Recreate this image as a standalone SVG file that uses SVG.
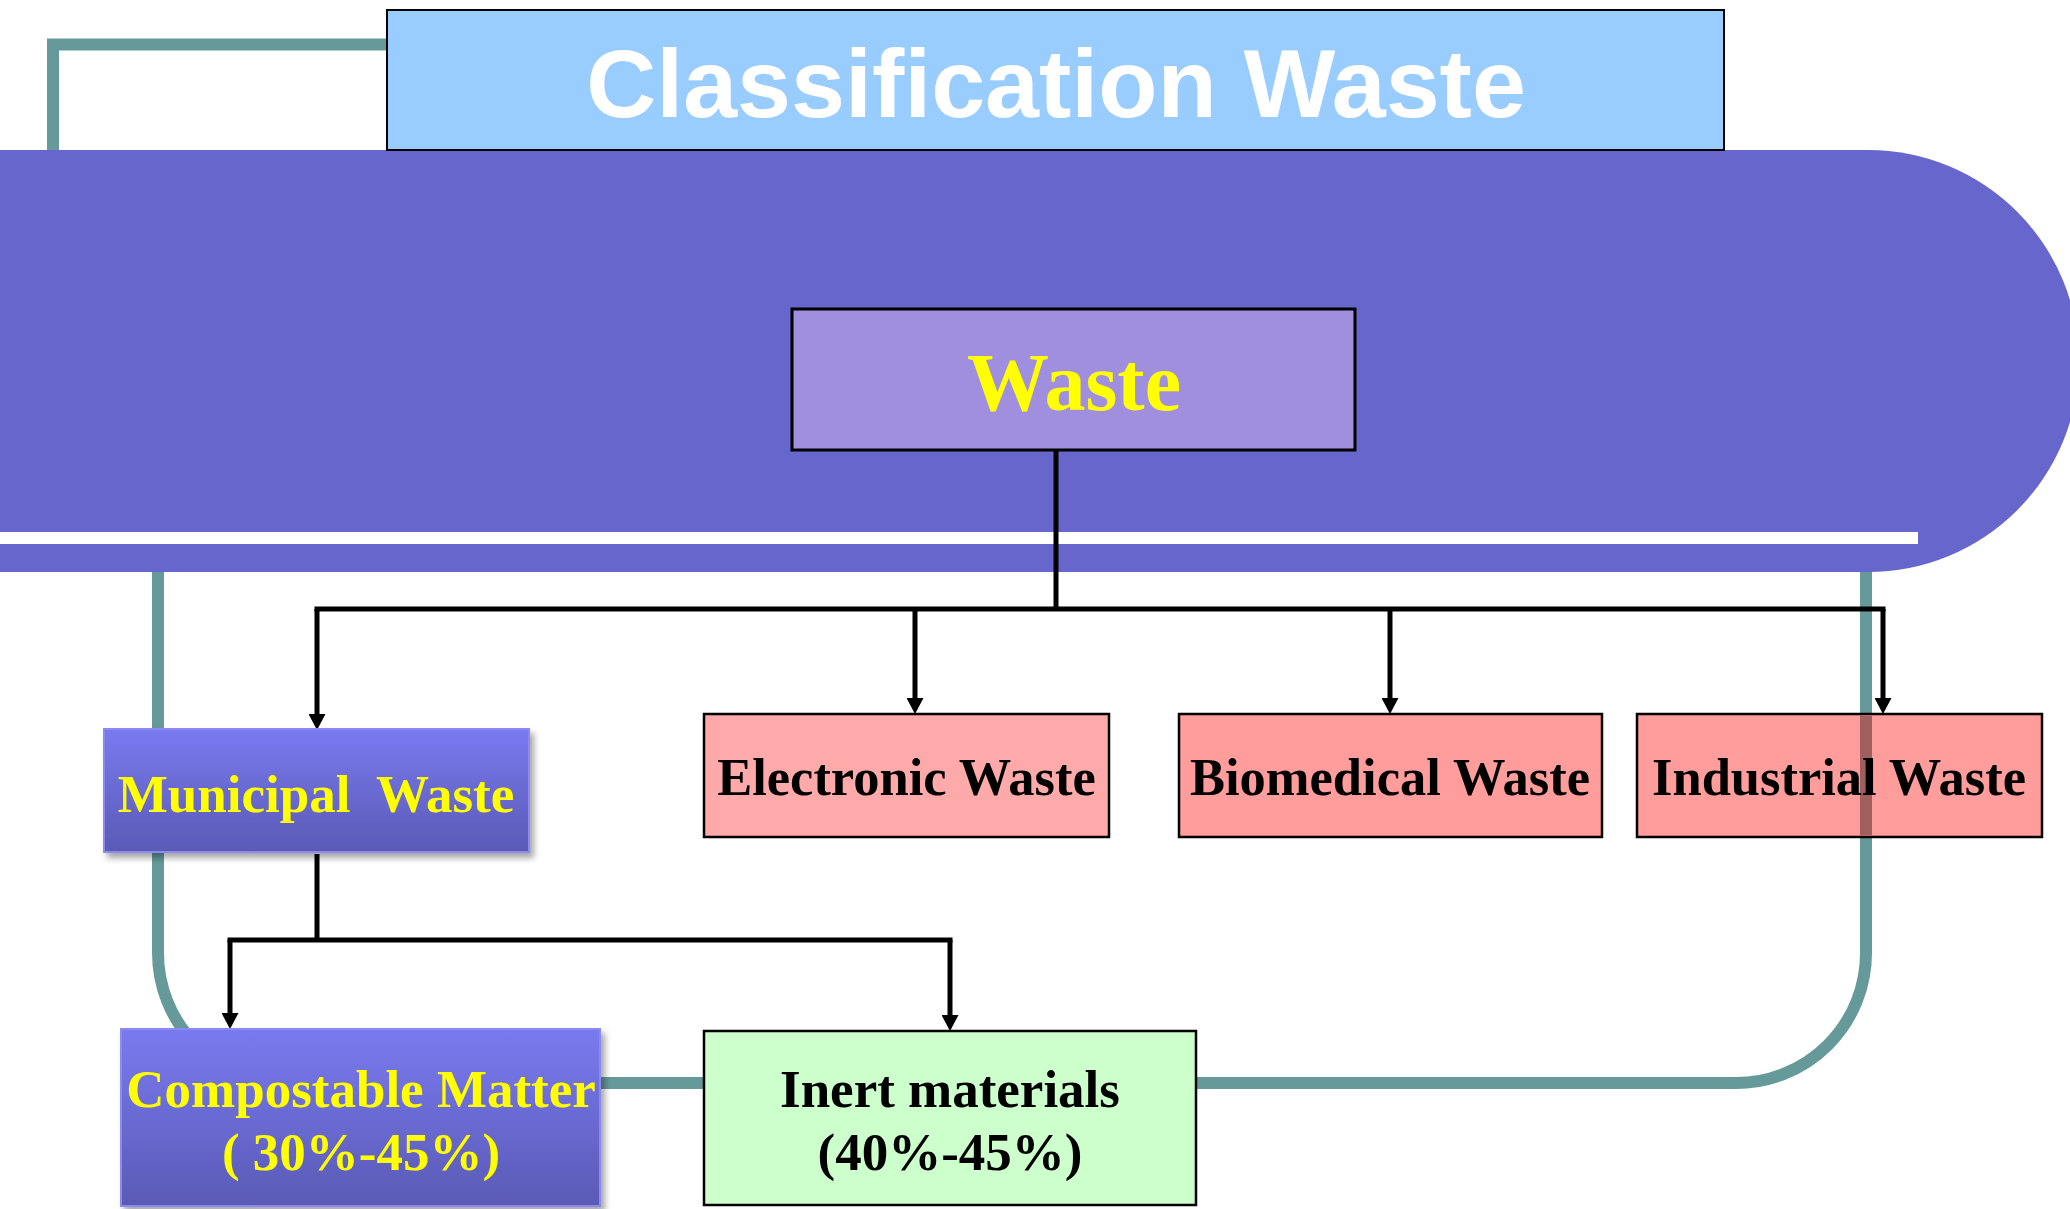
<svg xmlns="http://www.w3.org/2000/svg" width="2070" height="1209" viewBox="0 0 2070 1209">
<defs>
<style>
.teal{fill:none;stroke:#669999;stroke-width:12}
.conn{fill:none;stroke:#000;stroke-width:5}
.serif{font-family:"Liberation Serif","Times New Roman",serif;font-weight:bold}
.yel{fill:#FFFF00}
.blk{fill:#000}
.pink{stroke:#000;stroke-width:2.5}
</style>
<linearGradient id="gBlue" x1="0" y1="0" x2="0" y2="1">
<stop offset="0" stop-color="#7A7AF0"/>
<stop offset="1" stop-color="#5A5AB6"/>
</linearGradient>
<filter id="shadow" x="-10%" y="-10%" width="125%" height="130%">
<feDropShadow dx="4" dy="5" stdDeviation="3" flood-color="#000" flood-opacity="0.35"/>
</filter>
<marker id="arr" markerUnits="userSpaceOnUse" markerWidth="17" markerHeight="17" refX="4" refY="8.5" orient="auto">
<path d="M0,0 L16,8.5 L0,17 Z" fill="#000"/>
</marker>
</defs>

<g id="decor">
<path class="teal" d="M53,160 V44.5 H400"/>
<path class="teal" d="M158,560 V953 A130,130 0 0 0 288,1083 H1736 A130,130 0 0 0 1866,953 V560"/>
<path d="M0,150 H1868 A211,211 0 0 1 1868,572 H0 Z" fill="#6666CC"/>
<rect x="0" y="532" width="1918" height="12" fill="#FFFFFF"/>
</g>

<g id="title">
<rect x="387" y="10" width="1337" height="140" fill="#99CCFF" stroke="#000" stroke-width="2"/>
<text x="1056" y="117" text-anchor="middle" font-family="'Liberation Sans',Arial,sans-serif" font-weight="bold" font-size="97" fill="#FFFFFF">Classification Waste</text>
</g>

<g id="waste">
<rect x="792" y="309" width="563" height="141" fill="#A08EDE" stroke="#000" stroke-width="3"/>
<text x="1074" y="410" text-anchor="middle" class="serif yel" font-size="82">Waste</text>
</g>

<g id="connectors">
<path class="conn" d="M1056,450 V609"/>
<path class="conn" d="M314.5,609 H1885.5"/>
<path class="conn" d="M317,609 V718" marker-end="url(#arr)"/>
<path class="conn" d="M915,609 V702" marker-end="url(#arr)"/>
<path class="conn" d="M1390,609 V702" marker-end="url(#arr)"/>
<path class="conn" d="M1883,609 V702" marker-end="url(#arr)"/>
<path class="conn" d="M317,854 V940"/>
<path class="conn" d="M227.5,940 H952.5"/>
<path class="conn" d="M230,940 V1017" marker-end="url(#arr)"/>
<path class="conn" d="M950,940 V1019" marker-end="url(#arr)"/>
</g>

<g id="municipal">
<rect x="104" y="729" width="425" height="123" fill="url(#gBlue)" stroke="#8A8AF2" stroke-width="2" filter="url(#shadow)"/>
<text x="316" y="812" text-anchor="middle" class="serif yel" font-size="53" xml:space="preserve">Municipal  Waste</text>
</g>

<g id="electronic">
<rect x="704" y="714" width="405" height="123" fill="#FFAAAA" class="pink"/>
<text x="906.5" y="795" text-anchor="middle" class="serif blk" font-size="52.5">Electronic Waste</text>
</g>

<g id="biomedical">
<rect x="1179" y="714" width="423" height="123" fill="#FF9C9C" class="pink"/>
<text x="1390" y="795" text-anchor="middle" class="serif blk" font-size="52.5">Biomedical Waste</text>
</g>

<g id="industrial">
<rect x="1637" y="714" width="405" height="123" fill="#FF9C9C" class="pink"/>
<rect x="1860" y="715.5" width="12" height="120" fill="#A05F5F"/>
<text x="1839" y="795" text-anchor="middle" class="serif blk" font-size="52.5">Industrial Waste</text>
</g>

<g id="compostable">
<rect x="121" y="1029" width="479" height="177" fill="url(#gBlue)" stroke="#8A8AF2" stroke-width="2" filter="url(#shadow)"/>
<text x="361" y="1107" text-anchor="middle" class="serif yel" font-size="53">Compostable Matter</text>
<text x="361" y="1170" text-anchor="middle" class="serif yel" font-size="53">( 30%-45%)</text>
</g>

<g id="inert">
<rect x="704" y="1031" width="492" height="174" fill="#CCFFCC" stroke="#000" stroke-width="2.5"/>
<text x="950" y="1107" text-anchor="middle" class="serif blk" font-size="53">Inert materials</text>
<text x="950" y="1170" text-anchor="middle" class="serif blk" font-size="53">(40%-45%)</text>
</g>
</svg>
